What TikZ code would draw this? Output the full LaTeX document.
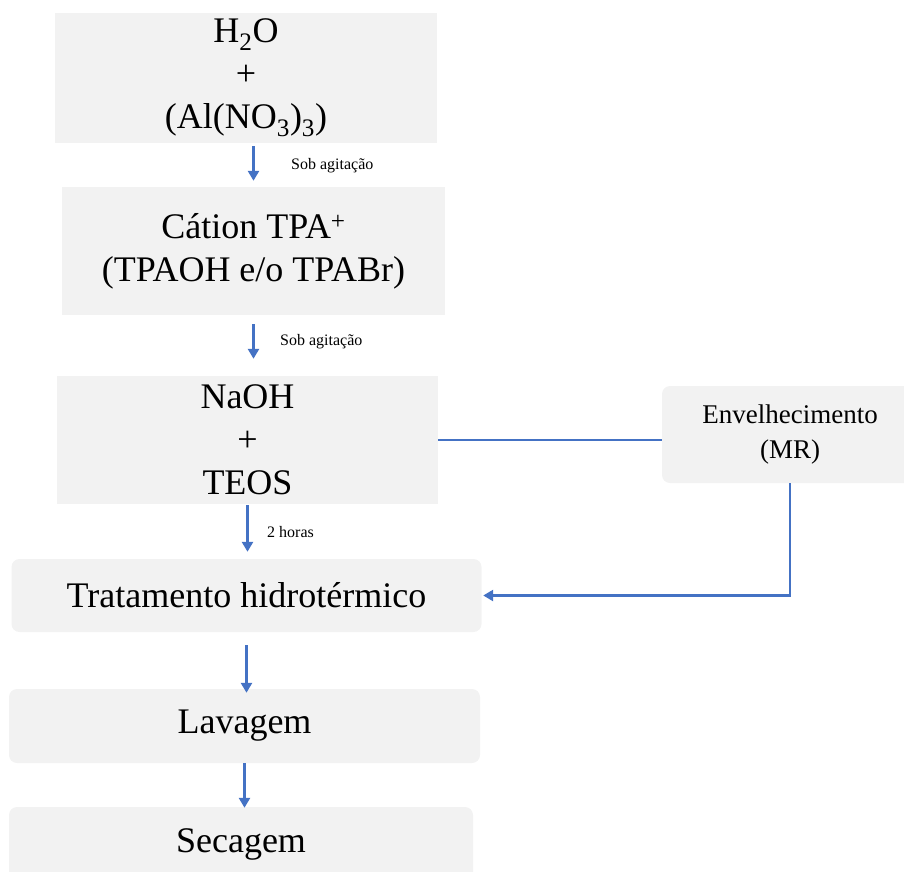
\documentclass[tikz,border=0pt]{standalone}
\usepackage{fontspec}
\setmainfont{Liberation Serif}
\usetikzlibrary{arrows.meta}
\definecolor{boxgray}{HTML}{F2F2F2}
\definecolor{arrowblue}{HTML}{4472C4}
\begin{document}
\begin{tikzpicture}[x=1pt,y=-1pt,
  box/.style={fill=boxgray, inner sep=0pt, align=center, font=\fontsize{36}{43}\selectfont},
  roundbox/.style={box, rounded corners=8pt},
  flow/.style={draw=arrowblue, line width=2.5pt, -{Triangle[length=10pt,width=11pt]}},
  link/.style={draw=arrowblue, line width=2.5pt},
  note/.style={font=\fontsize{16}{19}\selectfont, anchor=west, inner sep=0pt}]
\useasboundingbox (0,0) rectangle (904,871);
\clip (0,0) rectangle (904,871);

\node[box, minimum width=382pt, minimum height=130pt] (b1) at (246,78)
  {H\textsubscript{2}O\\+\\(Al(NO\textsubscript{3})\textsubscript{3})};
\node[box, minimum width=383pt, minimum height=128pt] (b2) at (253.5,251)
  {Cátion TPA\textsuperscript{+}\\(TPAOH e/o TPABr)};
\node[box, minimum width=381pt, minimum height=128pt] (b3) at (247.5,440)
  {NaOH\\+\\TEOS};
\node[roundbox, minimum width=470pt, minimum height=73pt] (trat) at (246.5,595.5)
  {Tratamento hidrotérmico};
\node[roundbox, minimum width=471pt, minimum height=74pt] (lav) at (244.5,726)
  {Lavagem};
\node[roundbox, minimum width=464pt, minimum height=74pt] (sec) at (241,844)
  {Secagem};
\node[roundbox, minimum width=256pt, minimum height=97pt, font=\fontsize{27}{35}\selectfont] (env) at (790,434.5)
  {Envelhecimento\\(MR)};

\draw[flow, shorten <=3pt, shorten >=6pt] (b2.north |- b1.south) -- (b2.north);
\draw[flow, shorten <=9pt, shorten >=17pt] (b2.south) -- (b2.south |- b3.north);
\draw[flow, shorten <=1pt, shorten >=7pt] (b3.south) -- (b3.south |- trat.north);
\draw[flow, shorten <=13pt, shorten >=-4pt] (trat.south) -- (trat.south |- lav.north);
\draw[flow, shorten >=-1pt] (lav.south) -- (lav.south |- sec.north);
\draw[link] (b3.east) -- (b3.east -| env.west);
\draw[flow, shorten >=1.5pt] (env.south) |- (trat.east);

\node[note] (l1) at (291,166) {Sob agitação};
\node[note] (l2) at (280,342) {Sob agitação};
\node[note] (l3) at (267,532) {2 horas};
\end{tikzpicture}
\end{document}
